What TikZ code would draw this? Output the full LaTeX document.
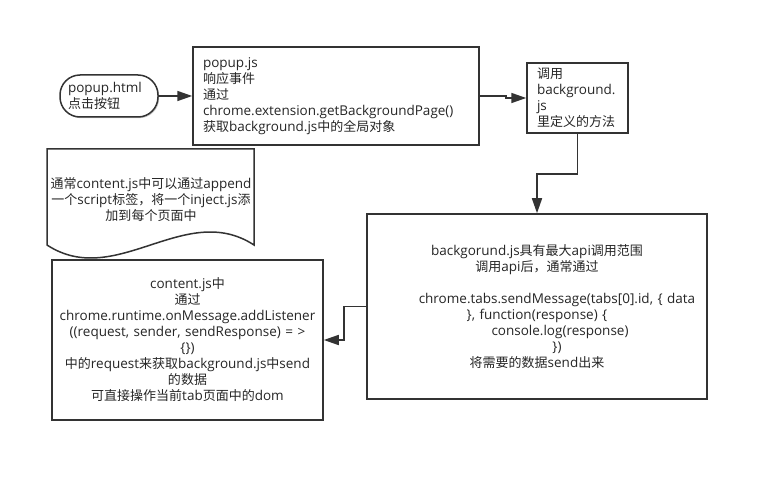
\documentclass[tikz,border=0pt]{standalone}
\usepackage{fontspec}
\setmainfont{Open Sans}
\newfontfamily\cjk[Scale=0.963]{Noto Sans CJK SC}
\usetikzlibrary{arrows.meta,positioning,shadows}

\newcommand{\zh}[1]{{\cjk #1}}

\tikzset{
  stepbox/.style={draw=black!80, line width=1.5pt, fill=white, rectangle,
    inner xsep=10pt, inner ysep=0pt,
    drop shadow={shadow xshift=1.2pt, shadow yshift=-1.2pt, fill=black!35, opacity=0.6}},
  startbox/.style={stepbox, rounded corners=20pt, minimum height=42pt, inner xsep=8pt, align=left},
  flow/.style={draw=black!80, line width=1.6pt, -{Triangle[length=15pt,width=10pt]}},
  docshape/.style={draw=black!80, line width=1.5pt, fill=white}
}

\begin{document}
\begin{tikzpicture}[x=1pt, y=-1pt, font=\fontsize{13.5}{16}\selectfont, text=black!85]
\useasboundingbox (0,0) rectangle (768,481);

% boxes
\node [startbox, text width=82pt] (html) at (109,96) {popup.html\\\zh{点击按钮}};
\node [stepbox, text width=266pt, minimum height=98pt, align=left] (pjs) at (336,96)
  {popup.js\\\zh{响应事件}\\\zh{通过}\\chrome.extension.getBackgroundPage()\\\zh{获取}background.js\zh{中的全局对象}};
\node [stepbox, text width=81pt, minimum height=70pt, align=left] (call) at (577.5,98)
  {\zh{调用}\\background.\\js\\\zh{里定义的方法}};
\node [stepbox, text width=320pt, minimum height=185pt, align=center] (bg) at (537,306.5)
  {backgorund.js\zh{具有最大}api\zh{调用范围}\\
   \zh{调用}api\zh{后，通常通过}\\
   ~\\
   \hspace*{40pt}chrome.tabs.sendMessage(tabs[0].id, \{ data\\
   \}, function(response) \{\\
   \hspace*{46pt}console.log(response)\\
   \hspace*{40pt}\})\\
   \zh{将需要的数据}send\zh{出来}};
\node [stepbox, inner xsep=3pt, text width=265pt, minimum height=160pt, align=center] (content) at (187.5,340)
  {content.js\zh{中}\\
   \zh{通过}\\
   chrome.runtime.onMessage.addListener\\
   ((request, sender, sendResponse) = >\\
   \{\})\\
   \zh{中的}request\zh{来获取}background.js\zh{中}send\\
   \zh{的数据}\\
   \zh{可直接操作当前}tab\zh{页面中的}dom};

% note with wavy bottom
\draw [docshape] (47,149) -- (254,149) -- (254,245)
  .. controls (185,200) and (116,290) .. (47,245) -- cycle;
\node [align=center, text width=210pt, inner sep=0pt] (note) at (151,200)
  {\zh{通常}content.js\zh{中可以通过}append\\
   \zh{一个}script\zh{标签，将一个}inject.js\zh{添}\\
   \zh{加到每个页面中}};

% connectors
\draw [flow] (html) -- (pjs);
\draw [flow] (pjs.east) -- ++(26,0) |- (call.west);
\draw [flow] (call.south) -- ++(0,40) -| (bg.north);
\draw [flow] (bg.west) -- ++(-22,0) |- (content.east);
\end{tikzpicture}
\end{document}
